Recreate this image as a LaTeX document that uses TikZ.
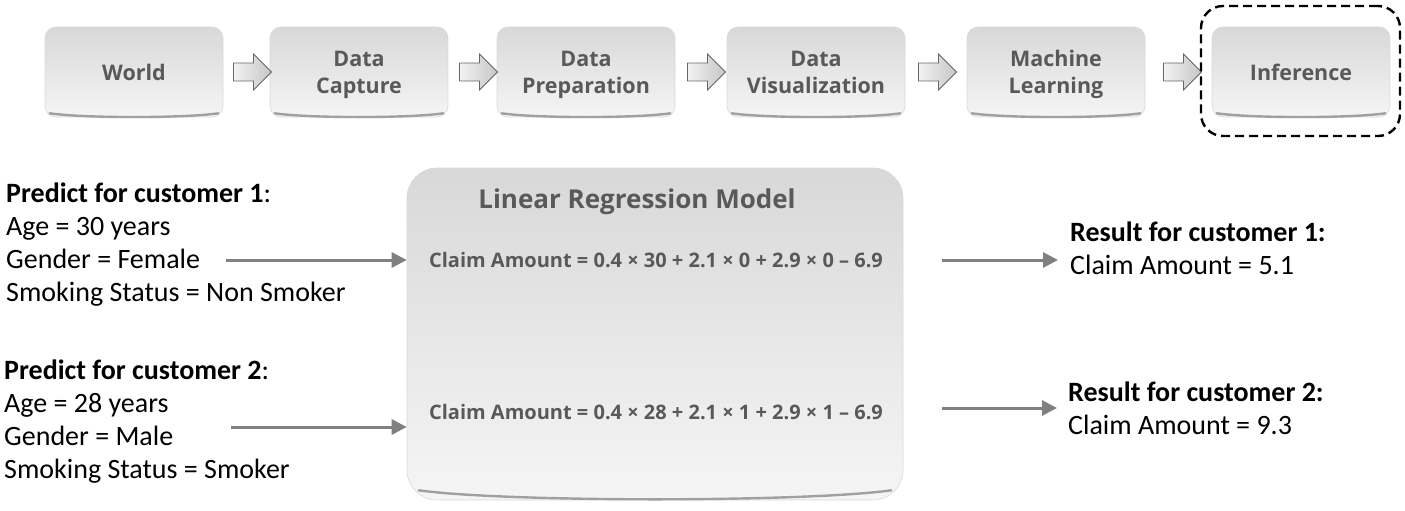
\documentclass[tikz,border=0pt]{standalone}
\usepackage{fontspec}
\newfontfamily\osans{Open Sans}
\newfontfamily\calib{Carlito}
\usetikzlibrary{arrows.meta,shapes.arrows,calc}
\definecolor{boxtext}{RGB}{89,89,89}
\definecolor{conngray}{RGB}{128,128,128}
\definecolor{boxtop}{RGB}{216,216,216}
\definecolor{boxbot}{RGB}{245,245,245}
\definecolor{rimgray}{RGB}{160,160,160}
\begin{document}
\begin{tikzpicture}[x=1pt,y=-1pt,
  stagebox/.style={rectangle, rounded corners=11pt, minimum width=178pt, minimum height=90pt,
    top color=boxtop, bottom color=boxbot, draw=black!15, line width=0.6pt,
    font=\osans\bfseries\fontsize{21.5}{27}\selectfont, text=boxtext, align=center, inner sep=0pt,
    text depth=0pt},
  modelbox/.style={rectangle, rounded corners=30pt, minimum width=496pt, minimum height=332pt,
    top color=boxtop, bottom color=boxbot, draw=black!15, line width=0.6pt, inner sep=0pt},
  blockarrow/.style={shape=single arrow, minimum height=38pt, inner xsep=0pt, inner ysep=8.5pt,
    single arrow head extend=9pt, left color=gray!10, right color=gray!45,
    draw=black!60, line width=0.8pt},
  rim/.style={draw=rimgray, line width=2.4pt, line cap=round},
  focusbox/.style={draw=black, dash pattern=on 9pt off 5pt, line width=2.4pt, rounded corners=22pt,
    minimum width=199pt, minimum height=130pt, inner sep=0pt},
  infotext/.style={font=\calib\fontsize{28}{33}\selectfont, align=left, inner sep=0pt, text=black},
  titletext/.style={font=\osans\bfseries\fontsize{26}{30}\selectfont, text=boxtext, inner sep=0pt},
  formula/.style={font=\osans\bfseries\fontsize{20}{24}\selectfont, text=boxtext, inner sep=0pt},
  conn/.style={draw=conngray, line width=3pt, -{Triangle[length=15pt,width=15pt]}}
]
\useasboundingbox (0,0) rectangle (1405,511);

% top stage boxes
\node[stagebox] (world) at (134,72) {World};
\node[stagebox] (capture) at (359,72) {Data\\Capture};
\node[stagebox] (prep) at (586,72) {Data\\Preparation};
\node[stagebox] (vis) at (816,72) {Data\\Visualization};
\node[stagebox] (ml) at (1056,72) {Machine\\Learning};
\node[stagebox] (infer) at (1301,72) {Inference};
\foreach \n in {world,capture,prep,vis,ml,infer}{
  \draw[rim] ($(\n.south west)+(5,-4)$) .. controls ($(\n.south)+(-50,1)$) and ($(\n.south)+(50,1)$) .. ($(\n.south east)+(-5,-4)$);
}

% block arrows
\node[blockarrow] (a1) at (248,72) {};
\node[blockarrow] (a2) at (474,72) {};
\node[blockarrow] (a3) at (702,72) {};
\node[blockarrow] (a4) at (933,72) {};
\node[blockarrow] (a5) at (1178,72) {};

% focus frame
\node[focusbox] (focus) at (1300.5,71) {};

% model box
\node[modelbox] (model) at (655,334) {};
\draw[rim] ($(model.south west)+(12,-10)$) .. controls ($(model.south)+(-150,2)$) and ($(model.south)+(150,2)$) .. ($(model.south east)+(-12,-10)$);
\node[titletext] (title) at (637,202) {Linear Regression Model};
\node[formula] (f1) at (656,260) {Claim Amount = 0.4 × 30 + 2.1 × 0 + 2.9 × 0 – 6.9};
\node[formula] (f2) at (656,412) {Claim Amount = 0.4 × 28 + 2.1 × 1 + 2.9 × 1 – 6.9};

% input texts
\node[infotext, anchor=north west] (c1) at (6,183) {\textbf{Predict for customer 1}:\\Age = 30 years\\Gender = Female\\Smoking Status = Non Smoker};
\node[infotext, anchor=north west] (c2) at (4,360) {\textbf{Predict for customer 2}:\\Age = 28 years\\Gender = Male\\Smoking Status = Smoker};

% result texts
\node[infotext, anchor=north west] (r1) at (1070,222) {\textbf{Result for customer 1:}\\Claim Amount = 5.1};
\node[infotext, anchor=north west] (r2) at (1068,382) {\textbf{Result for customer 2:}\\Claim Amount = 9.3};

% connectors
\coordinate (in1) at (226,260);
\coordinate (in2) at (231,427);
\coordinate (out1) at (942,260);
\coordinate (out2) at (942,408);
\draw[conn] (in1) -- (in1 -| model.west);
\draw[conn] (in2) -- (in2 -| model.west);
\draw[conn, shorten >=12pt] (out1) -- (out1 -| r1.west);
\draw[conn, shorten >=11pt] (out2) -- (out2 -| r2.west);
\end{tikzpicture}
\end{document}
